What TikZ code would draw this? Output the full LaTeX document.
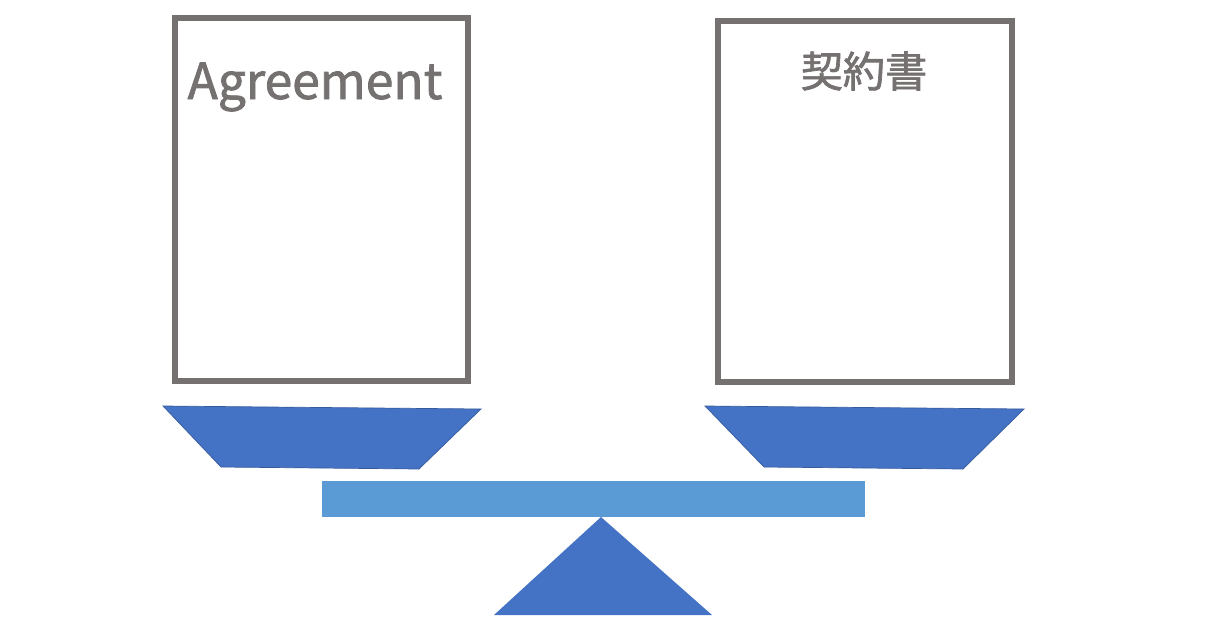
\documentclass[tikz,border=0pt]{standalone}
\usepackage{fontspec}
\setmainfont{Noto Sans CJK JP}
\newfontfamily\titrefont{Noto Sans CJK JP}[FakeBold=1.6]
\usetikzlibrary{positioning}
\definecolor{docgris}{HTML}{767171}
\definecolor{plateau}{HTML}{4472C4}
\definecolor{fleau}{HTML}{5B9BD5}
\tikzset{
  feuille/.style={draw=docgris,line width=3.4pt},
  titre/.style={text=docgris,inner sep=0pt},
}

\begin{document}
\begin{tikzpicture}[x=0.02cm,y=-0.02cm]%
\useasboundingbox (0,0) rectangle (1232,627);%%
%%DOCUMENTS
\draw[feuille] (175,18) rectangle (468,381);%%
\draw[feuille] (718,21) rectangle (1012,382);%%
\node[titre,font=\titrefont\fontsize{28.3}{32}\selectfont,anchor=base] (agreement) at (315,99) {Agreement}; %%
\node[titre,font=\titrefont\fontsize{24}{28}\selectfont] (keiyaku) at (864,71) {契約書}; %%
%%PLATEAUX
\filldraw[plateau,draw=plateau!80!black,thin] (163,406) -- (481,409) -- (419,469) -- (221,467) -- cycle;%%
\filldraw[plateau,draw=plateau!80!black,thin] (705,406) -- (1024,409) -- (963,469) -- (764,467) -- cycle;%%
%%FLEAU+PIVOT
\fill[fleau] (322,481) rectangle (865,517);%%
\fill[plateau] (601,517) -- (712,615) -- (494,615) -- cycle;%%
\end{tikzpicture}
\end{document}
